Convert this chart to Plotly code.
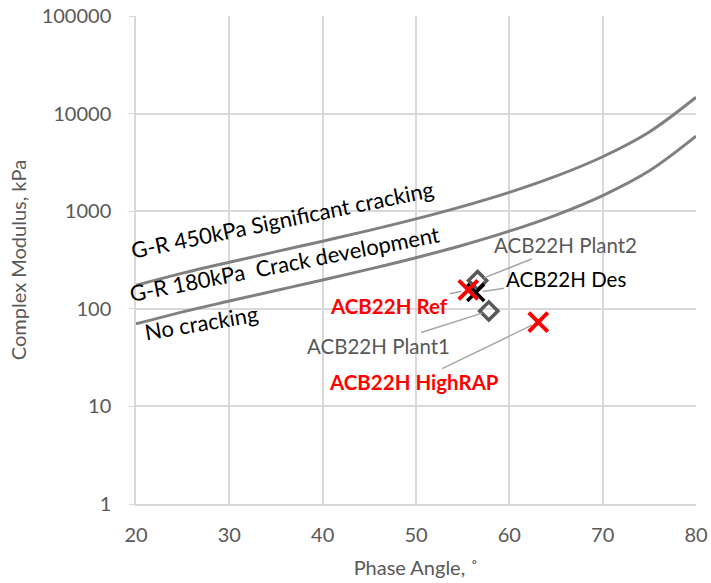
import plotly.graph_objects as go
import math

# ---- data ----
phase_curve = [20, 25, 30, 35, 40, 45, 50, 55, 60, 65, 70, 75, 80]
gr_450 = [174, 232, 300, 385, 493, 636, 834, 1121, 1559, 2284, 3614, 6487, 14698]
gr_180 = [70, 93, 120, 154, 197, 255, 334, 448, 624, 913, 1446, 2595, 5879]

sample_names = ["ACB22H Plant2", "ACB22H Plant1", "ACB22H Des", "ACB22H Ref", "ACB22H HighRAP"]
sample_phase = [56.6, 57.8, 56.4, 55.6, 63.1]
sample_modulus = [195, 95, 147, 156, 73]

x_ticks = [20, 30, 40, 50, 60, 70, 80]
y_ticks = [1, 10, 100, 1000, 10000, 100000]
y_ticktext = ["1", "10", "100", "1000", "10000", "100000"]

FONT = "Lato"
GREY = "#595959"

fig = go.Figure()

for ys in (gr_450, gr_180):
    fig.add_trace(go.Scatter(x=phase_curve, y=ys, mode="lines",
                             line=dict(color="#808080", width=3, shape="spline"),
                             hoverinfo="skip"))

styles = {
    "ACB22H Plant2": dict(symbol="diamond-open", size=14, color=GREY, lw=3.5),
    "ACB22H Plant1": dict(symbol="diamond-open", size=14, color=GREY, lw=3.5),
    "ACB22H Ref": dict(symbol="x-thin-open", size=19, color="#ff0000", lw=4),
    "ACB22H Des": dict(symbol="x-thin-open", size=17, color="#000000", lw=3.5),
    "ACB22H HighRAP": dict(symbol="x-thin-open", size=19, color="#ff0000", lw=4),
}
for n, xv, yv in zip(sample_names, sample_phase, sample_modulus):
    s = styles[n]
    fig.add_trace(go.Scatter(x=[xv], y=[yv], mode="markers", name=n,
                             marker=dict(symbol=s["symbol"], size=s["size"],
                                         color=s["color"],
                                         line=dict(color=s["color"], width=s["lw"]))))

# data labels with leader lines
label_cfg = {
    "ACB22H Plant2": dict(ax=88, ay=-35, color=GREY, bold=False),
    "ACB22H Plant1": dict(ax=-110, ay=35, color=GREY, bold=False),
    "ACB22H Ref": dict(ax=-79, ay=16, color="#ff0000", bold=True),
    "ACB22H Des": dict(ax=90, ay=-13, color="#000000", bold=False),
    "ACB22H HighRAP": dict(ax=-124, ay=60, color="#ff0000", bold=True),
}
for n, xv, yv in zip(sample_names, sample_phase, sample_modulus):
    c = label_cfg[n]
    txt = f"<b>{n}</b>" if c["bold"] else n
    fig.add_annotation(x=xv, y=math.log10(yv), text=txt, showarrow=True,
                       ax=c["ax"], ay=c["ay"], arrowhead=0, arrowwidth=1.5,
                       arrowcolor="#a6a6a6", standoff=7,
                       font=dict(family=FONT, size=20.5, color=c["color"]))

# region labels
region_texts = ["G-R 450kPa Significant cracking", "G-R 180kPa  Crack development", "No cracking"]
region_x = [35.64, 35.96, 27.07]
region_y = [832, 288, 73]
region_angle = [-11.6, -11.0, -9.6]
for t, xv, yv, ang in zip(region_texts, region_x, region_y, region_angle):
    fig.add_annotation(x=xv, y=math.log10(yv), text=t.replace("  ", "&nbsp; "),
                       showarrow=False, textangle=ang,
                       font=dict(family=FONT, size=22, color="#000000"))

fig.update_layout(
    width=711, height=583,
    margin=dict(l=136, r=15, t=16, b=79),
    paper_bgcolor="white", plot_bgcolor="white",
    showlegend=False,
    font=dict(family=FONT, size=20, color=GREY),
)
fig.update_xaxes(range=[20, 80], tickvals=x_ticks, showgrid=True, gridcolor="#d9d9d9",
                 gridwidth=1.5, showline=True, linecolor="#d9d9d9", linewidth=1.5,
                 mirror=False, zeroline=False, ticks="", ticklabelstandoff=12,
                 automargin=False,
                 tickfont=dict(family=FONT, size=20, color=GREY),
                 title=dict(text="Phase Angle, ˚", standoff=16,
                            font=dict(family=FONT, size=20, color=GREY)))
fig.update_yaxes(type="log", range=[0, 5], tickvals=y_ticks, ticktext=y_ticktext,
                 showgrid=True, gridcolor="#d9d9d9", gridwidth=1.5,
                 showline=True, linecolor="#d9d9d9", linewidth=1.5,
                 zeroline=False, ticks="outside", ticklen=5, tickcolor="#d9d9d9",
                 ticklabelstandoff=14, automargin=False,
                 tickfont=dict(family=FONT, size=20, color=GREY),
                 title=dict(text="Complex Modulus, kPa", standoff=10,
                            font=dict(family=FONT, size=20, color=GREY)))

fig.write_html("out.html")
